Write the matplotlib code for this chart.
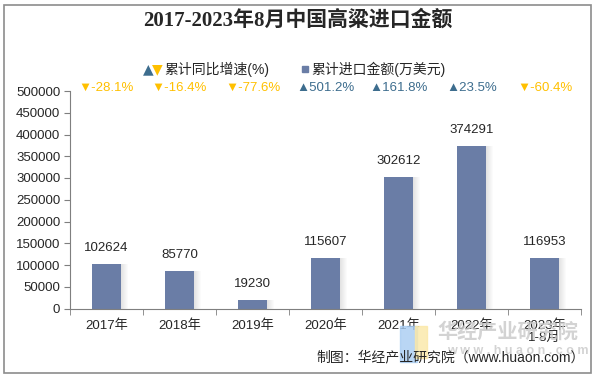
import matplotlib
matplotlib.use("Agg")
import matplotlib.pyplot as plt
from matplotlib.patches import Rectangle

plt.rcParams['font.family'] = ['Liberation Sans', 'Noto Sans CJK SC', 'DejaVu Sans']

categories = ['2017年', '2018年', '2019年', '2020年', '2021年', '2022年', '2023年\n1-8月']
values = [102624, 85770, 19230, 115607, 302612, 374291, 116953]
growth = [-28.1, -16.4, -77.6, 501.2, 161.8, 23.5, -60.4]
yticks = [0, 50000, 100000, 150000, 200000, 250000, 300000, 350000, 400000, 450000, 500000]

bar_color = '#6A7DA6'
up_color = '#3D6D8E'
down_color = '#FFC000'

fig = plt.figure(figsize=(5.96, 3.77), dpi=100)
ax = fig.add_axes([70/596, 1-308.5/377, 511/596, 217.5/377])

x = list(range(len(categories)))
bw = 0.40
# shadow
px = 7/511
for k in range(7):
    ax.bar([xi + bw/2 + k*px for xi in x], values, width=px, align='edge',
           color='#808080', alpha=0.22*(1-k/7), linewidth=0, zorder=1)
ax.bar(x, values, width=bw, color=bar_color, zorder=2, linewidth=0)

for xi, v in zip(x, values):
    ax.annotate(f'{v}', (xi, v), xytext=(0, 7), textcoords='offset points',
                ha='center', va='bottom', fontsize=9.5, color='#262626')

for xi, g in zip(x, growth):
    if g >= 0:
        s = f'▲{g}%'
        c = up_color
    else:
        s = f'▼{g}%'
        c = down_color
    ax.text(xi, 1.015, s, transform=ax.get_xaxis_transform(), ha='center', va='center',
            fontsize=9.5, color=c, family=['Liberation Sans', 'DejaVu Sans'])

ax.set_xlim(-0.5, len(categories) - 0.5)
ax.set_ylim(0, 500000)
ax.set_yticks(yticks)
ax.set_yticklabels([str(t) for t in yticks], fontsize=9.5, color='#262626')
ax.set_xticks(x)
ax.set_xticklabels(categories, fontsize=9.5, color='#262626', linespacing=1.0)
ax.set_xticks([i - 0.5 for i in range(len(categories) + 1)], minor=True)
ax.tick_params(axis='x', which='major', length=0, pad=8)
ax.tick_params(axis='x', which='minor', length=4, color='#7f7f7f', direction='out')
ax.tick_params(axis='y', length=4, color='#7f7f7f', direction='out', pad=3)
for s in ['top', 'right']:
    ax.spines[s].set_visible(False)
for s in ['left', 'bottom']:
    ax.spines[s].set_color('#7f7f7f')
    ax.spines[s].set_linewidth(0.8)

# title
fig.text(298/596, 1-20/377, '2017-2023年8月中国高粱进口金额', ha='center', va='center',
         fontsize=15, fontweight='bold', color='#262626',
         family=['Liberation Serif', 'Noto Sans CJK SC'])

# legend
ly = 1 - 69/377
fig.text(143/596, ly, '▲', color=up_color, fontsize=10, ha='left', va='center', family=['DejaVu Sans'])
fig.text(152/596, ly, '▼', color=down_color, fontsize=10, ha='left', va='center', family=['DejaVu Sans'])
fig.text(164/596, ly, '累计同比增速(%)', color='#262626', fontsize=10, ha='left', va='center')
fig.patches.append(Rectangle((302/596, ly - 3/377), 6/596, 6/377, transform=fig.transFigure,
                             color=bar_color, figure=fig))
fig.text(311/596, ly, '累计进口金额(万美元)', color='#262626', fontsize=10, ha='left', va='center')

# watermark logo
fig.patches.append(Rectangle((400/596, 1-362/377), 17/596, 36/377, transform=fig.transFigure,
                             color='#A8CCF2', alpha=0.8, figure=fig, zorder=0))
fig.patches.append(Rectangle((415/596, 1-358/377), 12/596, 32/377, transform=fig.transFigure,
                             color='#FBE8A6', alpha=0.8, figure=fig, zorder=0))
fig.text(508/596, 1-332/377, '华经产业研究院', ha='center', va='center', fontsize=14.5,
         fontweight='bold', color='#C8C8C8', alpha=0.8)
fig.text(518/596, 1-351/377, 'w w w . h u a o n . c o m', ha='center', va='center', fontsize=9,
         fontweight='bold', color='#C8C8C8', alpha=0.8)

# source
fig.text(585/596, 1-357/377, '制图：华经产业研究院（www.huaon.com）', ha='right', va='center',
         fontsize=10, color='#262626')

# border
fig.patches.append(Rectangle((4/596, 4/377), 587/596, 368/377, transform=fig.transFigure,
                             fill=False, edgecolor='#8c8c8c', linewidth=1.2, figure=fig))

fig.savefig('out.png', dpi=100)
